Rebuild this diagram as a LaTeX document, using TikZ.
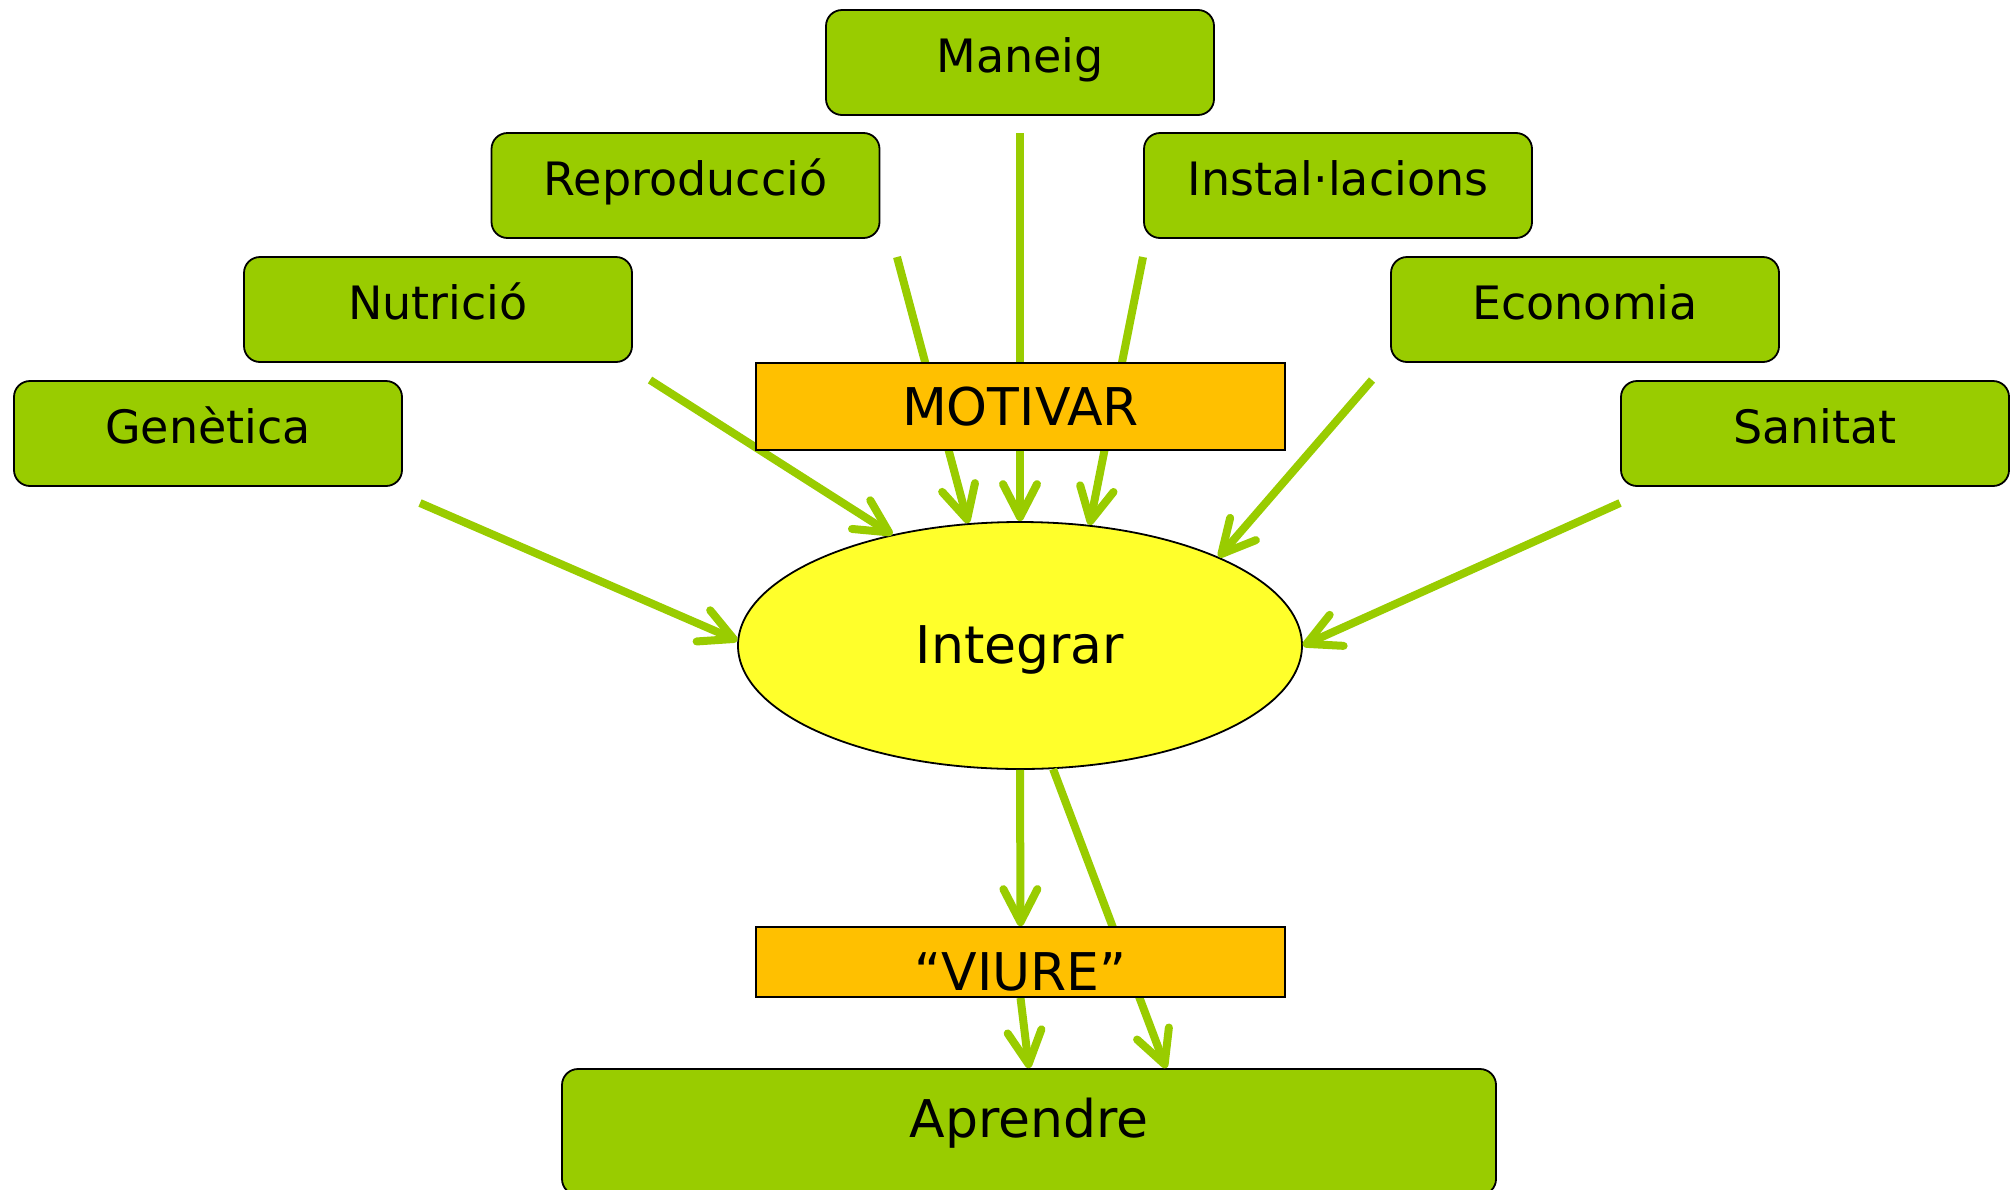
\documentclass[tikz,border=0pt]{standalone}
\usepackage{fontspec}
\setmainfont{DejaVu Sans}
\usetikzlibrary{arrows.meta,shapes.geometric}
\definecolor{lgreen}{HTML}{99CC00}
\definecolor{morange}{HTML}{FFC000}
\definecolor{myellow}{HTML}{FFFF2B}
\pgfdeclarelayer{front}
\pgfsetlayers{main,front}
\tikzset{
  gbox/.style={draw=black, line width=0.9pt, fill=lgreen, rounded corners=8pt,
    minimum width=194pt, minimum height=52.5pt, inner sep=0pt,
    font=\fontsize{23}{26}\selectfont, text height=17pt, text depth=7.5pt},
  obox/.style={draw=black, line width=0.9pt, fill=morange, inner sep=0pt,
    minimum width=264.5pt, font=\fontsize{26}{30}\selectfont},
  conn/.style={draw=lgreen, line width=4pt,
    -{Straight Barb[length=16.5pt,width=17pt,round]}}
}
\begin{document}
\begin{tikzpicture}[x=0.5pt,y=-0.5pt]
\useasboundingbox (0,0) rectangle (2016,1189);
% green boxes
\node[gbox] (maneig) at (1020,62.5) {Maneig};
\node[gbox] (repro) at (685.5,185.5) {Reproducció};
\node[gbox] (instal) at (1338,185.5) {Instal·lacions};
\node[gbox] (nutri) at (438,309.5) {Nutrició};
\node[gbox] (econ) at (1585,309.5) {Economia};
\node[gbox] (genet) at (208,433.5) {Genètica};
\node[gbox] (sanit) at (1815,433.5) {Sanitat};
% ellipse
\node[ellipse, draw=black, line width=0.9pt, fill=myellow, inner sep=0pt,
  minimum width=282pt, minimum height=123.5pt,
  font=\fontsize{26}{30}\selectfont, text height=19pt, text depth=1.5pt]
  (integrar) at (1020,645.5) {Integrar};
% bottom box (runs past the lower edge)
\node[gbox, minimum width=467pt, minimum height=63pt,
  font=\fontsize{26}{30}\selectfont, text height=19pt, text depth=14pt]
  (aprendre) at (1029,1132) {Aprendre};
% orange boxes on front layer
\begin{pgfonlayer}{front}
\node[obox, minimum height=43.5pt, text height=19pt, text depth=0.5pt]
  (motivar) at (1020.5,406.5) {MOTIVAR};
\node[obox, minimum height=35pt, text height=28pt, text depth=0pt]
  (viure) at (1020.5,962) {“VIURE”};
\end{pgfonlayer}
% start coordinates
\coordinate (sman) at (1020,133);
\coordinate (srep) at (897,257);
\coordinate (sins) at (1143,257);
\coordinate (snut) at (650,380);
\coordinate (seco) at (1372,380);
\coordinate (sgen) at (420,503);
\coordinate (ssan) at (1620,503);
% connectors
\draw[conn] (sman) -- (integrar.90);
\draw[conn] (srep) -- (integrar.113);
\draw[conn] (sins) -- (integrar.60.3);
\draw[conn] (snut) -- (integrar.139);
\draw[conn] (seco) -- (integrar.24.5);
\draw[conn] (sgen) -- (integrar.179.4);
\draw[conn] (ssan) -- (integrar.0.2);
\draw[conn] (integrar.south) -- (viure.north);
\draw[conn] (integrar.285.4) -- (aprendre.25.35);
\draw[conn] (viure.south) -- (aprendre.north);
\end{tikzpicture}
\end{document}
